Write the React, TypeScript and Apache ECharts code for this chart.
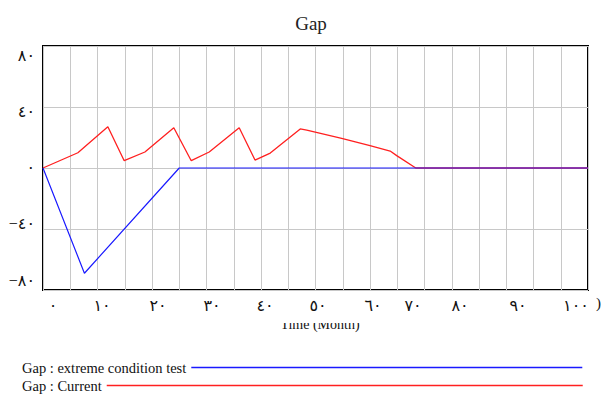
import React, { useEffect, useRef } from 'react';
import * as echarts from 'echarts';

// ---- data ----
const xTickValues = [0, 10, 20, 30, 40, 50, 60, 70, 80, 90, 100];
const xTickLabels = ['٠', '١٠', '٢٠', '٣٠', '٤٠', '٥٠', '٦٠', '٧٠', '٨٠', '٩٠', '١٠٠'];
const yTickValues = [-80, -40, 0, 40, 80];
const yTickLabels = ['−٨٠', '−٤٠', '٠', '٤٠', '٨٠'];

const extremeX = [0, 7.6, 25, 100];
const extremeY = [0, -69, 0, 0];

const currentX = [0, 6.4, 11.9, 14.9, 18.7, 24.0, 27.2, 30.5, 36.0, 38.9, 41.7, 47.2, 48.4, 54.8, 60.0, 63.7, 64.9, 68.4, 100];
const currentY = [0, 10, 27, 4.8, 10.5, 26.4, 4.8, 10.5, 26.4, 5.2, 9.8, 25.6, 24.9, 19.5, 14.6, 11.1, 8.1, 0, 0];

const seriesNames = ['Gap : extreme condition test', 'Gap : Current'];
const titleText = 'Gap';
const xAxisName = 'Time (Month)';

// ---- styles ----
const FONT = "'Liberation Serif', 'DejaVu Serif', 'DejaVu Sans', serif";
const xLabelShift = [10, 4.5, 6, 5.5, 4, 2.5, 3, -11.5, -19, -15.5, -12];
const yLabelShift = [-10, -6, -1, 4, 9]; // pixels, positive = down, order of yTickValues

function xRich() {
  const r: Record<string, any> = {};
  xLabelShift.forEach((d, i) => {
    r['x' + i] = {
      fontFamily: FONT,
      fontSize: 16,
      color: '#111',
      padding: d >= 0 ? [0, 0, 0, 2 * d] : [0, -2 * d, 0, 0],
    };
  });
  return r;
}
function yRich() {
  const r: Record<string, any> = {};
  yLabelShift.forEach((d, i) => {
    r['y' + i] = {
      fontFamily: FONT,
      fontSize: 16,
      color: '#111',
      padding: d >= 0 ? [2 * d, 0, 0, 0] : [0, 0, -2 * d, 0],
    };
  });
  return r;
}

export default function App() {
  const ref = useRef<HTMLDivElement>(null);
  useEffect(() => {
    const chart = echarts.init(ref.current!, null, { renderer: 'svg' });
    const option: any = {
      animation: false,
      backgroundColor: '#fff',
      title: {
        text: titleText,
        left: 306,
        top: 9,
        textAlign: 'center',
        textStyle: { fontFamily: FONT, fontSize: 19, fontWeight: 'normal', color: '#222' },
      },
      grid: {
        left: 43,
        right: 15,
        top: 46,
        bottom: 104,
        show: true,
        borderColor: '#000',
        borderWidth: 2,
        backgroundColor: 'transparent',
      },
      legend: [
        {
          data: [seriesNames[0]],
          left: 17,
          top: 355,
          align: 'right',
          icon: 'rect',
          itemWidth: 391,
          itemHeight: 1.5,
          textStyle: { fontFamily: FONT, fontSize: 14.5, color: '#111' },
        },
        {
          data: [seriesNames[1]],
          left: 17,
          top: 373,
          align: 'right',
          icon: 'rect',
          itemWidth: 476,
          itemHeight: 1.5,
          textStyle: { fontFamily: FONT, fontSize: 14.5, color: '#111' },
        },
      ],
      xAxis: {
        type: 'value',
        min: 0,
        max: 100,
        interval: 10,
        name: xAxisName,
        nameLocation: 'middle',
        nameGap: 27,
        nameTextStyle: { fontFamily: FONT, fontSize: 14, color: '#111', padding: [0, 0, 0, 9] },
        axisLine: { show: false },
        axisTick: { show: false },
        minorTick: { show: false, splitNumber: 2 },
        splitLine: { show: true, lineStyle: { color: '#c8c8c8', width: 1 } },
        minorSplitLine: { show: true, lineStyle: { color: '#c8c8c8', width: 1 } },
        axisLabel: {
          margin: 7,
          formatter: (v: number) => {
            const i = xTickValues.indexOf(v);
            return i < 0 ? '' : `{x${i}|${xTickLabels[i]}}`;
          },
          rich: xRich(),
        },
      },
      yAxis: {
        type: 'value',
        min: -80,
        max: 80,
        interval: 40,
        axisLine: { show: false },
        axisTick: { show: false },
        splitLine: { show: true, lineStyle: { color: '#c8c8c8', width: 1 } },
        axisLabel: {
          margin: 8,
          formatter: (v: number) => {
            const i = yTickValues.indexOf(v);
            return i < 0 ? '' : `{y${i}|${yTickLabels[i]}}`;
          },
          rich: yRich(),
        },
      },
      graphic: [
        {
          type: 'rect',
          z: 100,
          shape: { x: 240, y: 313, width: 160, height: 10 },
          style: { fill: '#fff' },
        },
        {
          type: 'text',
          z: 100,
          x: 596,
          y: 295,
          style: { text: ')', font: `15px ${FONT}`, fill: '#111' },
        },
      ],
      series: [
        {
          name: seriesNames[0],
          type: 'line',
          z: 4,
          symbol: 'none',
          color: '#1a1aff',
          lineStyle: { width: 1.2, color: '#1a1aff' },
          data: extremeX.map((x, i) => [x, extremeY[i]]),
        },
        {
          name: seriesNames[1],
          type: 'line',
          z: 3,
          symbol: 'none',
          color: '#ff2020',
          lineStyle: { width: 1.3, color: '#ff2020' },
          data: currentX.map((x, i) => [x, currentY[i]]),
        },
      ],
    };
    chart.setOption(option);
    return () => chart.dispose();
  }, []);
  return (
    <div
      ref={ref}
      style={{ position: 'absolute', left: 0, top: 0, width: 603, height: 394 }}
    />
  );
}
